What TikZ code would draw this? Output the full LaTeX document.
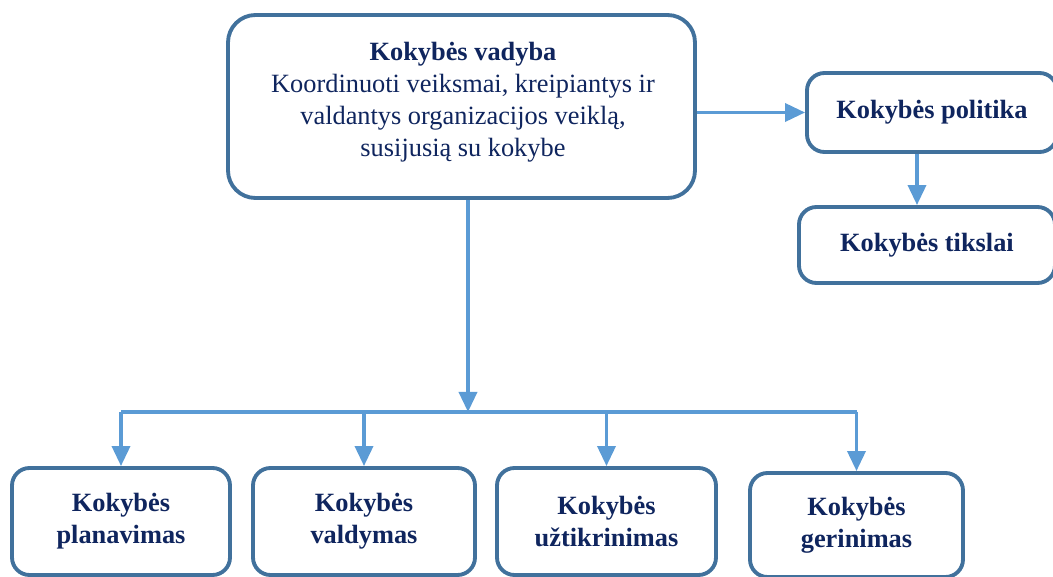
\documentclass[tikz,border=0pt]{standalone}
\usepackage{fontspec}
\setmainfont{Liberation Serif}
\usetikzlibrary{arrows.meta}
\definecolor{rim}{HTML}{41719C}
\definecolor{wire}{HTML}{5B9BD5}
\definecolor{ink}{HTML}{0F255E}

\begin{document}
\begin{tikzpicture}[
  box/.style={draw=rim,line width=2.2pt,rounded corners=0.35cm,fill=white,align=center,
    text=ink,font=\fontsize{15}{18.2}\selectfont\bfseries,inner sep=0pt},
  wirearrow/.style={draw=wire,line width=2pt,-{Triangle[length=0.4cm,width=0.36cm]}},
  wireline/.style={draw=wire,line width=2pt}]
\useasboundingbox (0,0) rectangle (21.06,11.54);
\node[box,rounded corners=0.55cm,minimum width=9.34cm,minimum height=3.66cm] (vadyba) at (9.23,9.41) {};
\node[align=center,text=ink,font=\fontsize{15}{18.2}\selectfont] (vadybatxt) at (9.26,9.5)
  {\textbf{Kokybės vadyba}\\Koordinuoti veiksmai, kreipiantys ir\\valdantys organizacijos veiklą,\\susijusią su kokybe};
\node[box,minimum width=5.0cm,minimum height=1.58cm] (politika) at (18.64,9.29) {Kokybės politika};
\node[box,minimum width=5.12cm,minimum height=1.52cm] (tikslai) at (18.54,6.64) {Kokybės tikslai};
\node[box,minimum width=4.36cm,minimum height=2.14cm] (planavimas) at (2.42,1.11) {Kokybės\\planavimas};
\node[box,minimum width=4.44cm,minimum height=2.14cm] (valdymas) at (7.28,1.11) {Kokybės\\valdymas};
\node[box,minimum width=4.38cm,minimum height=2.14cm] (uztikrinimas) at (12.13,1.11) {Kokybės\\užtikrinimas};
\node[box,minimum width=4.26cm,minimum height=2.08cm] (gerinimas) at (17.13,1.04) {Kokybės\\gerinimas};
\coordinate (split) at (9.36,3.3);
\draw[wirearrow] (vadyba.south -| split) -- (split);
\draw[wireline] (split -| planavimas) -- (split -| gerinimas);
\draw[wirearrow] (split -| planavimas) -- (planavimas.north);
\draw[wirearrow] (split -| valdymas) -- (valdymas.north);
\draw[wirearrow] (split -| uztikrinimas) -- (uztikrinimas.north);
\draw[wirearrow] (split -| gerinimas) -- (gerinimas.north);
\draw[wirearrow] (vadyba.east |- politika) -- (politika.west);
\draw[wirearrow] ([xshift=-0.3cm]politika.south) -- ([xshift=-0.3cm]politika.south |- tikslai.north);
\end{tikzpicture}
\end{document}
